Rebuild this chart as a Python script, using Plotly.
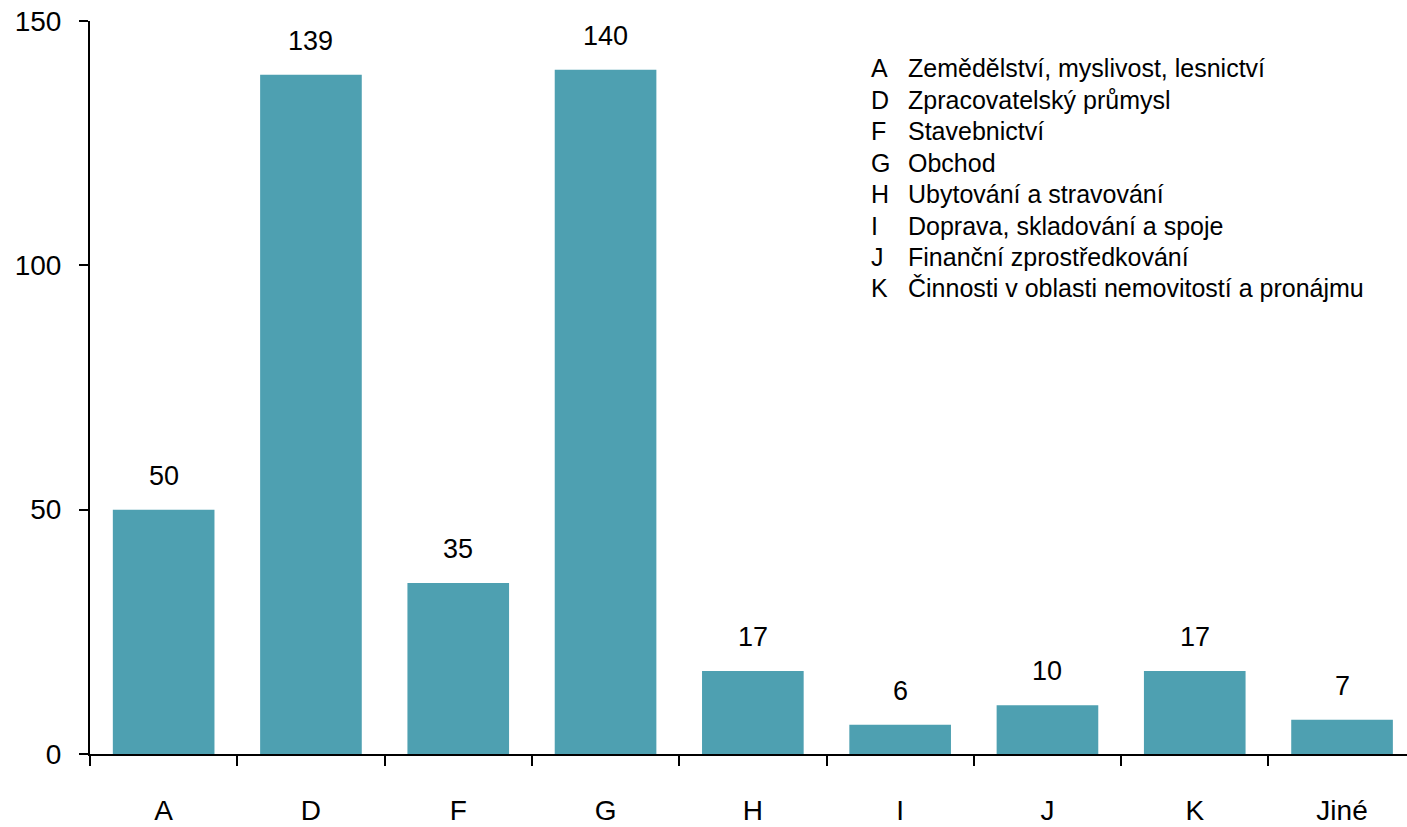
import plotly.graph_objects as go

categories = ["A", "D", "F", "G", "H", "I", "J", "K", "Jiné"]
values = [50, 139, 35, 140, 17, 6, 10, 17, 7]
legend_codes = ["A", "D", "F", "G", "H", "I", "J", "K"]
legend_names = [
    "Zemědělství, myslivost, lesnictví",
    "Zpracovatelský průmysl",
    "Stavebnictví",
    "Obchod",
    "Ubytování a stravování",
    "Doprava, skladování a spoje",
    "Finanční zprostředkování",
    "Činnosti v oblasti nemovitostí a pronájmu",
]
y_ticks = [0, 50, 100, 150]

FONT = "Liberation Sans, Arial, sans-serif"
BAR_COLOR = "#4EA0B1"

fig = go.Figure()
fig.add_trace(go.Bar(
    x=categories,
    y=values,
    marker=dict(color=BAR_COLOR, line=dict(width=0)),
    width=0.69,
    hoverinfo="skip",
))

annotations = []
for c, v in zip(categories, values):
    annotations.append(dict(
        x=c, y=v, xref="x", yref="y", text=str(v), showarrow=False,
        yanchor="bottom", yshift=17, font=dict(family=FONT, size=27, color="black"),
    ))

for k, (code, name) in enumerate(zip(legend_codes, legend_names)):
    yp = 1 - (68.5 - 21 + k * 31.4) / 733.0
    annotations.append(dict(
        x=(869 - 90) / 1317.0, y=yp, xref="paper", yref="paper", text=code,
        showarrow=False, xanchor="left", yanchor="middle",
        font=dict(family=FONT, size=25, color="black"),
    ))
    annotations.append(dict(
        x=(906 - 90) / 1317.0, y=yp, xref="paper", yref="paper", text=name,
        showarrow=False, xanchor="left", yanchor="middle",
        font=dict(family=FONT, size=25, color="black"),
    ))

fig.update_layout(
    width=1407, height=827,
    margin=dict(l=90, r=0, t=21, b=73),
    paper_bgcolor="white", plot_bgcolor="white",
    showlegend=False,
    annotations=annotations,
    xaxis=dict(
        type="category",
        range=[-0.5, -0.5 + 1317 / 147.3],
        tickson="boundaries",
        ticks="outside", ticklen=10, tickwidth=2, tickcolor="black",
        showline=True, linecolor="black", linewidth=2,
        showgrid=False, zeroline=False,
        tickfont=dict(family=FONT, size=28, color="black"),
        ticklabelstandoff=30,
    ),
    yaxis=dict(
        range=[0, 150],
        tickmode="array", tickvals=y_ticks,
        ticks="outside", ticklen=9, tickwidth=2, tickcolor="black",
        showline=True, linecolor="black", linewidth=2,
        showgrid=False, zeroline=False,
        tickfont=dict(family=FONT, size=28, color="black"),
        ticklabelstandoff=12,
    ),
)

fig.write_html(
    "out.html",
    config={"displayModeBar": False},
    post_script="document.body.style.margin='0';document.body.style.overflow='hidden';",
)
